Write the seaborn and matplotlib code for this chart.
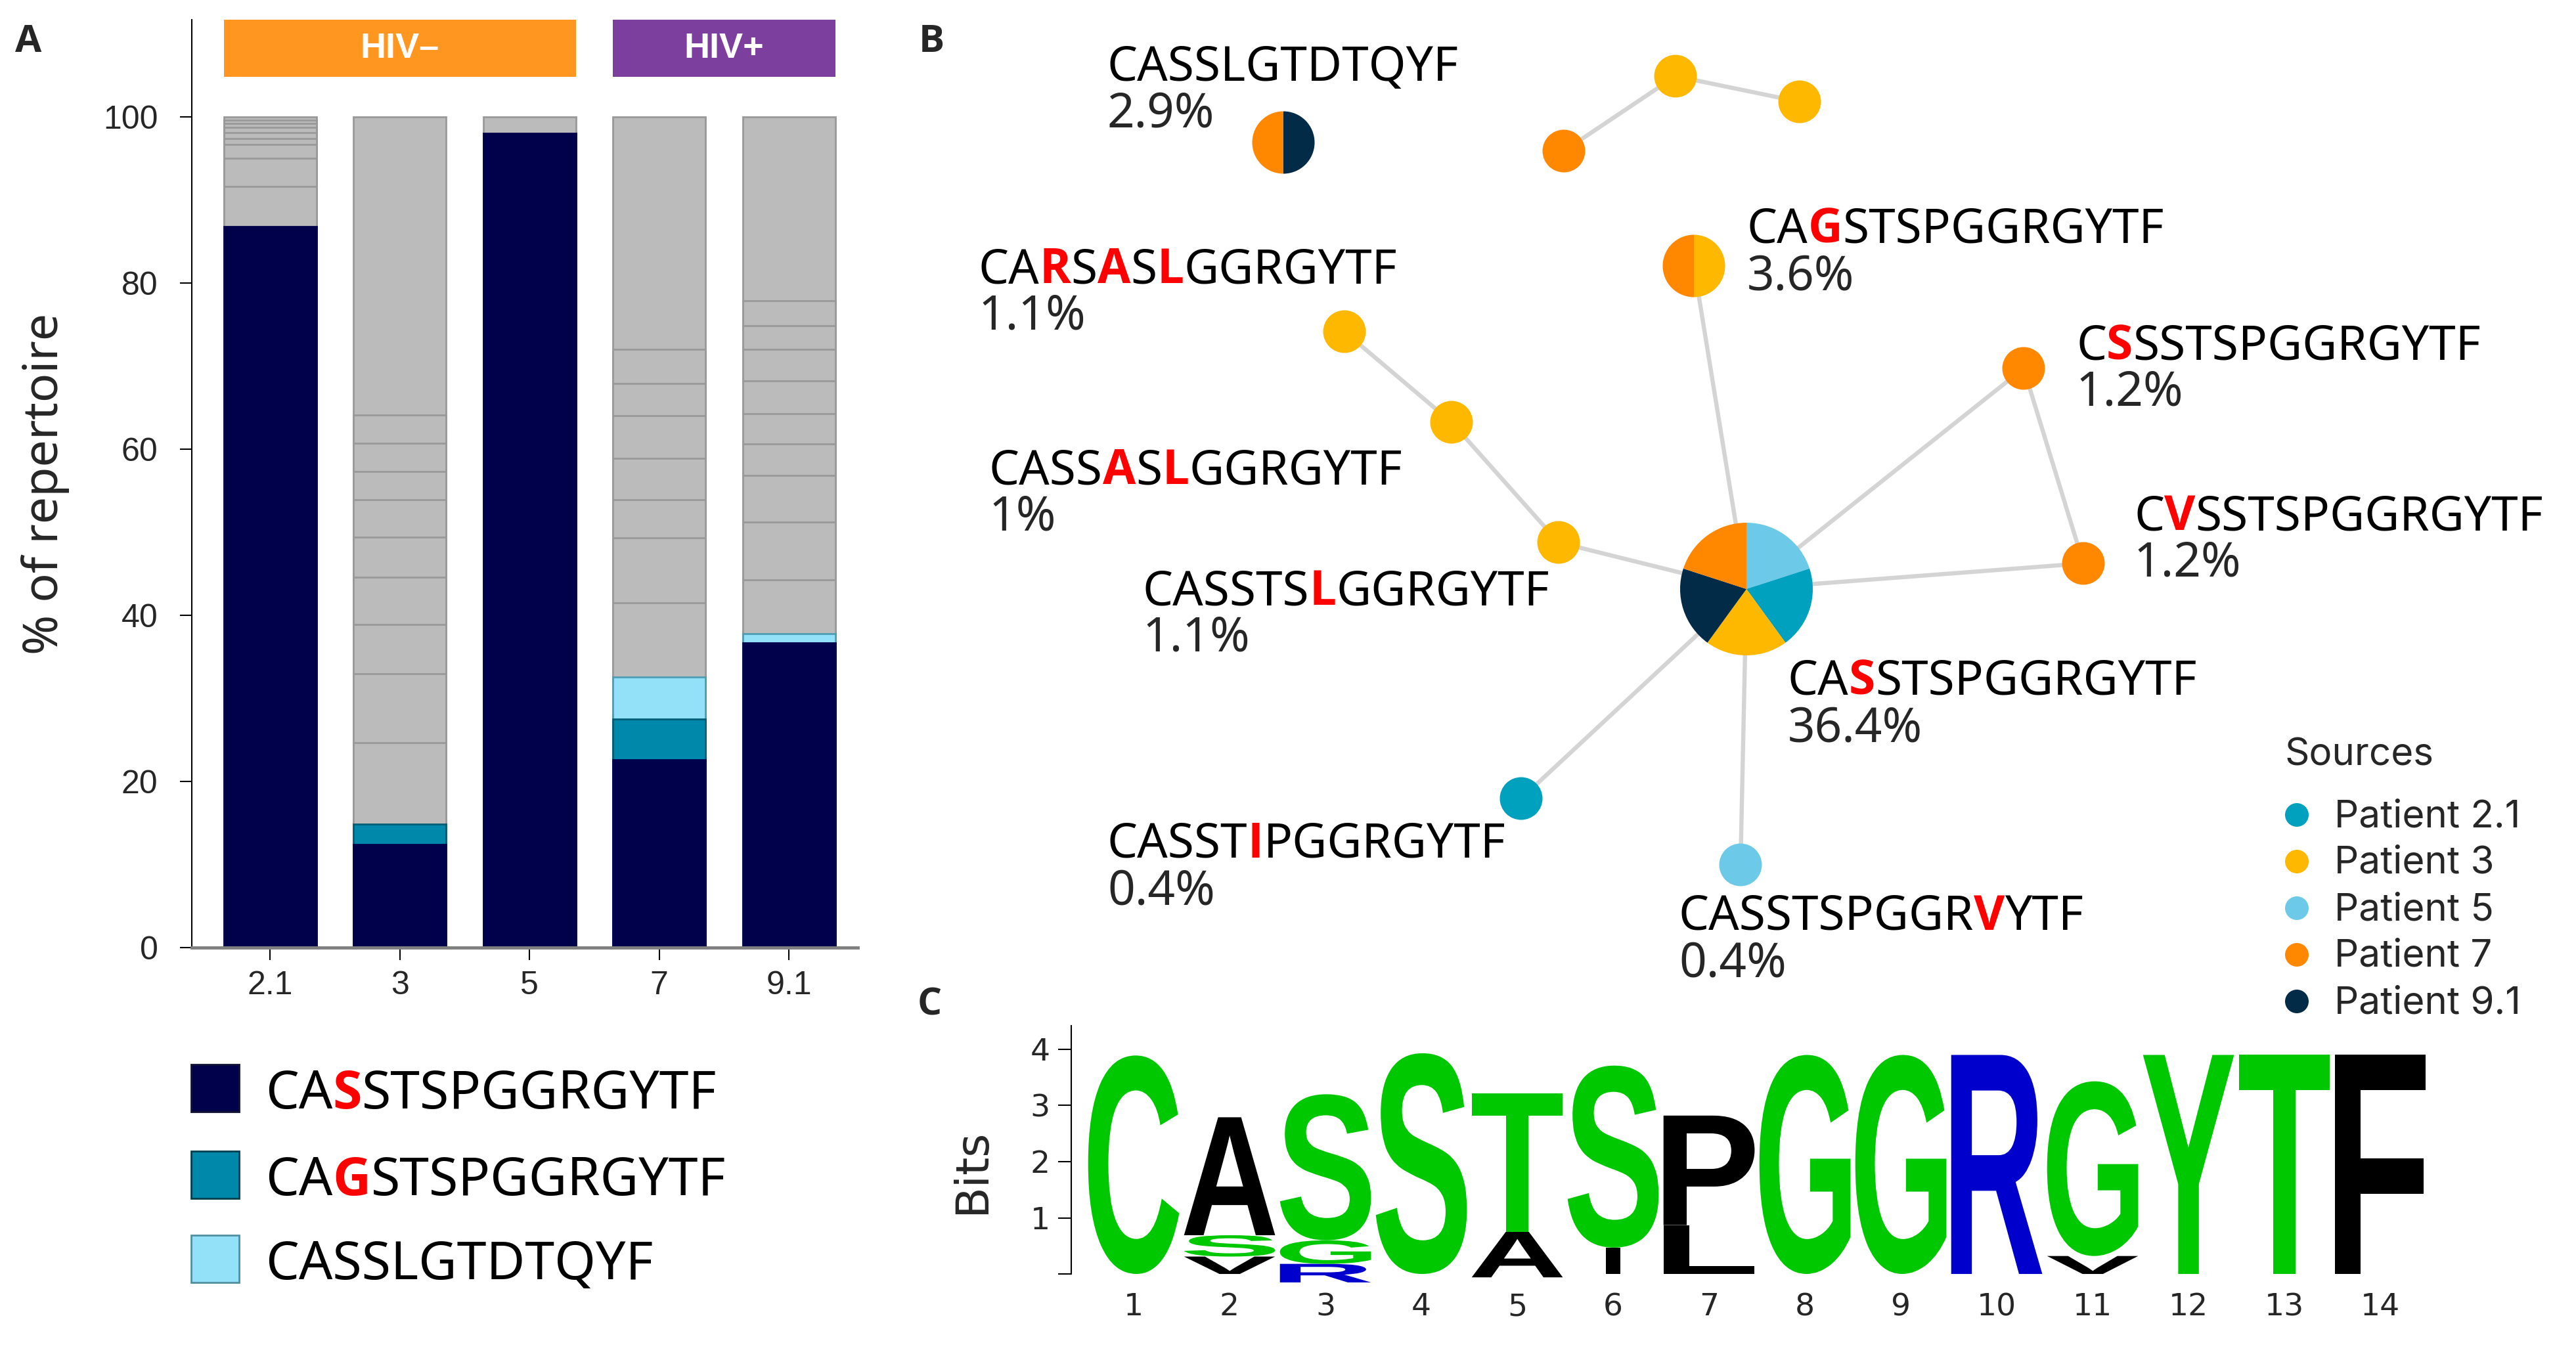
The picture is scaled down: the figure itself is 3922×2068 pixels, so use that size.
import numpy as np
import pandas as pd
import matplotlib
matplotlib.use("Agg")
import matplotlib.pyplot as plt
import seaborn as sns
from matplotlib.patches import Wedge, Rectangle, PathPatch
from matplotlib.textpath import TextPath
from matplotlib.font_manager import FontProperties
from matplotlib.transforms import Affine2D

# ---------------------------------------------------------------- data
patients = ["2.1", "3", "5", "7", "9.1"]
main_clone = [86.8, 12.4, 98.0, 22.6, 36.7]      # CASSTSPGGRGYTF
cags_clone = [0.0, 2.5, 0.0, 4.9, 0.0]           # CAGSTSPGGRGYTF
casslg_clone = [0.0, 0.0, 0.0, 5.1, 1.1]         # CASSLGTDTQYF
other_21 = [4.8, 3.4, 1.7, 0.7, 0.7, 0.6, 0.5, 0.4, 0.4]
other_3 = [9.8, 8.3, 5.9, 5.7, 4.8, 4.5, 3.4, 3.4, 3.4, 35.9]
other_5 = [2.0]
other_7 = [8.9, 7.8, 4.6, 5.0, 5.1, 3.9, 4.1, 28.0]
other_91 = [6.5, 6.9, 5.6, 3.8, 3.7, 3.9, 3.8, 2.9, 3.0, 22.1]
other_clones = {"2.1": other_21, "3": other_3, "5": other_5, "7": other_7, "9.1": other_91}
groups = ["HIV–", "HIV+"]
legend_seqs = ["CASSTSPGGRGYTF", "CAGSTSPGGRGYTF", "CASSLGTDTQYF"]
legend_red = [[2], [2], []]

# network
node_seqs = ["CASSLGTDTQYF", "", "", "", "CAGSTSPGGRGYTF", "CARSASLGGRGYTF",
             "CASSASLGGRGYTF", "CASSTSLGGRGYTF", "CASSTSPGGRGYTF", "CSSSTSPGGRGYTF",
             "CVSSTSPGGRGYTF", "CASSTIPGGRGYTF", "CASSTSPGGRVYTF"]
node_red = [[], [], [], [], [2], [2, 4, 6], [4, 6], [6], [2], [1], [1], [5], [10]]
node_pct = ["2.9%", "", "", "", "3.6%", "1.1%", "1%", "1.1%", "36.4%", "1.2%", "1.2%", "0.4%", "0.4%"]
node_sources = [["9.1", "7"], ["7"], ["3"], ["3"], ["3", "7"], ["3"], ["3"], ["3"],
                ["5", "2.1", "3", "9.1", "7"], ["7"], ["7"], ["2.1"], ["5"]]
edges = [(1, 2), (2, 3), (4, 8), (5, 6), (6, 7), (7, 8), (11, 8), (12, 8), (9, 8), (9, 10), (10, 8)]

# sequence logo
logo_positions = list(range(1, 15))
logo_letters = ["C", "VSA", "RGS", "S", "AT", "IS", "LP", "G", "G", "R", "VG", "Y", "T", "F"]
logo_heights = [[3.89], [0.31, 0.38, 2.10], [0.33, 0.42, 2.60], [3.93], [0.81, 2.47],
                [0.47, 3.24], [0.87, 1.95], [3.90], [3.90], [3.90], [0.32, 3.11],
                [3.90], [3.90], [3.90]]
logo_base = [0, 0, -0.15, 0, -0.06, 0, 0, 0, 0, 0, 0, 0, 0, 0]

# ---------------------------------------------------------------- layout / style
W, H = 3923, 2068
sns.set_theme(style="ticks")
plt.rcParams["font.family"] = ["Noto Sans", "DejaVu Sans"]
NARROW = ["Liberation Sans Narrow", "Liberation Sans", "DejaVu Sans"]
SANS = ["Noto Sans", "DejaVu Sans"]
BOLD = ["Open Sans", "DejaVu Sans"]

C_NAVY, C_TEAL, C_LIGHT, C_GRAY = "#00004B", "#0088AA", "#93E1F8", "#BBBBBB"
seg_colors = {"main": C_NAVY, "cags": C_TEAL, "casslg": C_LIGHT, "other": C_GRAY}
seg_edges = {"main": C_NAVY, "cags": "#005D75", "casslg": "#4F9DB2", "other": "#999999"}
pat_colors = {"2.1": "#00A0BF", "3": "#FFB800", "5": "#6CCAE8", "7": "#FF8800", "9.1": "#022B47"}
group_colors = ["#FF9620", "#7D3F9D"]
logo_colors = {"C": "#00C800", "S": "#00C800", "T": "#00C800", "G": "#00C800", "Y": "#00C800",
               "R": "#0000CC", "A": "black", "V": "black", "P": "black", "L": "black",
               "I": "black", "F": "black"}

fig = plt.figure(figsize=(W / 100, H / 100), dpi=100)


def frac_rect(x0, y0, x1, y1):
    return [x0 / W, 1 - y1 / H, (x1 - x0) / W, (y1 - y0) / H]


def colored_text(ax, x, y, seq, red, size, **kw):
    pieces = []
    cur, cur_red = "", None
    for i, ch in enumerate(seq):
        r = i in red
        if cur_red is None or r == cur_red:
            cur += ch
            cur_red = r
        else:
            pieces.append((cur, cur_red))
            cur, cur_red = ch, r
    pieces.append((cur, cur_red))
    prev = None
    for txt, r in pieces:
        style = dict(fontsize=size, family=BOLD if r else SANS, color="#FF0000" if r else "black",
                     fontweight="bold" if r else "normal", **kw)
        if prev is None:
            prev = ax.text(x, y, txt, ha="left", va="baseline", **style)
        else:
            prev = ax.annotate(txt, xy=(1, 0), xycoords=prev, ha="left", va="bottom", **style)
    return prev


# ---------------------------------------------------------------- panel A
axA = fig.add_axes(frac_rect(292, 30, 1306, 1443))
rows = []
for i, p in enumerate(patients):
    segs = [("main", main_clone[i]), ("cags", cags_clone[i]), ("casslg", casslg_clone[i])]
    segs += [("other", h) for h in other_clones[p]]
    cum = 0.0
    for kind, h in segs:
        if h <= 0:
            continue
        cum += h
        rows.append(dict(patient=p, top=min(cum, 100.0), kind=kind))
seg_df = pd.DataFrame(rows).sort_values("top", ascending=False)
BAR_W = 0.714
for _, r in seg_df.iterrows():
    sns.barplot(x=[r["patient"]], y=[r["top"]], order=patients, color=seg_colors[r["kind"]],
                edgecolor=seg_edges[r["kind"]], linewidth=2.0, width=BAR_W, saturation=1,
                errorbar=None, ax=axA)
axA.set_xlim(-0.605, 4.531)
axA.set_ylim(0, 111.7)
axA.set_yticks([0, 20, 40, 60, 80, 100])
axA.set_xticks(range(len(patients)))
axA.set_xticklabels(patients)
axA.spines["top"].set_visible(False)
axA.spines["right"].set_visible(False)
axA.spines["left"].set_linewidth(1.5)
axA.spines["left"].set_color("black")
axA.spines["bottom"].set_linewidth(3.5)
axA.spines["bottom"].set_color("#808080")
axA.tick_params(axis="y", length=13, width=1.5, pad=24, labelsize=36, color="black")
axA.tick_params(axis="x", length=14, width=1.5, pad=11, labelsize=36, color="black")
for lbl in axA.get_yticklabels() + axA.get_xticklabels():
    lbl.set_fontfamily(NARROW)
axA.set_xlabel("")
axA.set_ylabel("% of repertoire", fontsize=53, family=SANS)
axA.yaxis.set_label_coords(-0.183, 0.5)
# group boxes
for gi, (g, (x0, x1)) in enumerate(zip(groups, [(0, 2), (3, 4)])):
    left = x0 - BAR_W / 2
    wid = (x1 - x0) + BAR_W
    axA.add_patch(Rectangle((left, 104.8), wid, 6.9, facecolor=group_colors[gi],
                            edgecolor="none", clip_on=False))
    axA.text(left + wid / 2, 108.25, g, ha="center", va="center", color="white",
             fontsize=39, fontweight="bold", family=NARROW)

# ---------------------------------------------------------------- overlay (labels, legend A)
axO = fig.add_axes([0, 0, 1, 1])
axO.set_xlim(0, W)
axO.set_ylim(H, 0)
axO.axis("off")
axO.patch.set_alpha(0)
for lab, (lx, ly) in zip(["A", "B", "C"], [(43, 64), (1418, 64), (1415, 1531)]):
    axO.text(lx, ly, lab, ha="center", va="center", fontsize=42, fontweight="bold",
             family=BOLD)
leg_cols = [C_NAVY, C_TEAL, C_LIGHT]
leg_edge = ["#111133", "#003F50", "#4F8FA0"]
for k, (seq, red) in enumerate(zip(legend_seqs, legend_red)):
    top = [1621, 1753, 1881][k]
    axO.add_patch(Rectangle((291, top), 73, 72, facecolor=leg_cols[k], edgecolor=leg_edge[k],
                            linewidth=2))
    colored_text(axO, 404, top + 67, seq, red, 58)
axO.text(1480, 1784, "Bits", rotation=90, ha="center", va="center", fontsize=50,
         family=["DejaVu Sans"])

# ---------------------------------------------------------------- panel B network
axN = fig.add_axes(frac_rect(1380, 0, W, 1560))
axN.set_xlim(1380, W)
axN.set_ylim(1560, 0)
axN.axis("off")
axN.patch.set_alpha(0)
node_xy = [(1954, 217), (2381, 230), (2551, 116), (2740, 155), (2579, 405), (2047, 505),
           (2210, 643), (2373, 826), (2659, 897), (3081, 561), (3172, 858), (2316, 1216),
           (2650, 1317)]
node_r = {1: 32.5, 2: 47.5, 5: 101}
for a, b in edges:
    axN.plot([node_xy[a][0], node_xy[b][0]], [node_xy[a][1], node_xy[b][1]],
             color="#D4D4D4", lw=4.6, zorder=1, solid_capstyle="butt")
single = pd.DataFrame([dict(x=node_xy[i][0], y=node_xy[i][1], source=s[0])
                       for i, s in enumerate(node_sources) if len(s) == 1])
sns.scatterplot(data=single, x="x", y="y", hue="source", palette=pat_colors, s=2190,
                linewidth=0, legend=False, ax=axN, zorder=3)
for i, srcs in enumerate(node_sources):
    if len(srcs) == 1:
        continue
    r = node_r[len(srcs)]
    frac = 360.0 / len(srcs)
    for k, s in enumerate(srcs):
        axN.add_patch(Wedge(node_xy[i], r, -90 + k * frac, -90 + (k + 1) * frac,
                            facecolor=pat_colors[s], edgecolor="none", zorder=3))
label_pos = {0: (1686, 123), 4: (2660, 370), 5: (1490, 431), 6: (1506, 737), 7: (1740, 921),
             8: (2722, 1058), 9: (3161, 547), 10: (3249, 807), 11: (1686, 1306), 12: (2556, 1416)}
for i, (lx, ly) in label_pos.items():
    colored_text(axN, lx, ly, node_seqs[i], node_red[i], 52.5)
    axN.text(lx, ly + 71, node_pct[i], ha="left", va="baseline", fontsize=52.5, family=SANS)
# legend
axN.text(3478, 1165, "Sources", ha="left", va="baseline", fontsize=42,
         family=["Inter", "DejaVu Sans"])
leg_y = [1241, 1312, 1383, 1454, 1525]
leg_df = pd.DataFrame(dict(x=[3497] * 5, y=leg_y, source=patients))
sns.scatterplot(data=leg_df, x="x", y="y", hue="source", palette=pat_colors, s=671,
                linewidth=0, legend=False, ax=axN, zorder=3)
for y, p in zip(leg_y, patients):
    axN.text(3554, y + 18, f"Patient {p}", ha="left", va="baseline", fontsize=42,
             family=["Inter", "DejaVu Sans"])
axN.set_xlim(1380, W)
axN.set_ylim(1560, 0)
axN.set_xlabel("")
axN.set_ylabel("")

# ---------------------------------------------------------------- panel C logo
axC = fig.add_axes(frac_rect(1631, 1562, 3700, 1965.7))
axC.set_xlim(0.349, 14.52)
axC.set_ylim(-0.3, 4.42)
fp_logo = FontProperties(family="Liberation Sans", weight="bold")
LETTER_W = 0.95
for pos, letters, heights, base in zip(logo_positions, logo_letters, logo_heights, logo_base):
    y0 = base
    for ch, h in zip(letters, heights):
        tp = TextPath((0, 0), ch, size=1, prop=fp_logo)
        bb = tp.get_extents()
        w = 0.15 if ch == "I" else LETTER_W
        tr = Affine2D().translate(-bb.x0, -bb.y0).scale(w / bb.width, h / bb.height) \
            .translate(pos - w / 2, y0)
        axC.add_patch(PathPatch(tr.transform_path(tp), facecolor=logo_colors[ch],
                                edgecolor="none", clip_on=False))
        y0 += h
for s in ["top", "right", "bottom"]:
    axC.spines[s].set_visible(False)
axC.spines["left"].set_bounds(0, 4.42)
axC.spines["left"].set_linewidth(1.5)
axC.spines["left"].set_color("black")
axC.set_yticks([0, 1, 2, 3, 4])
axC.set_yticklabels(["", "1", "2", "3", "4"])
axC.set_xticks(logo_positions)
axC.set_xticklabels([str(p) for p in logo_positions])
axC.tick_params(axis="y", length=14.4, width=1.5, pad=9, labelsize=34, color="black")
axC.tick_params(axis="x", length=0, pad=2, labelsize=34)
for lbl in axC.get_yticklabels() + axC.get_xticklabels():
    lbl.set_fontfamily(["DejaVu Sans"])

fig.savefig("out.png", dpi=100, facecolor="white")
